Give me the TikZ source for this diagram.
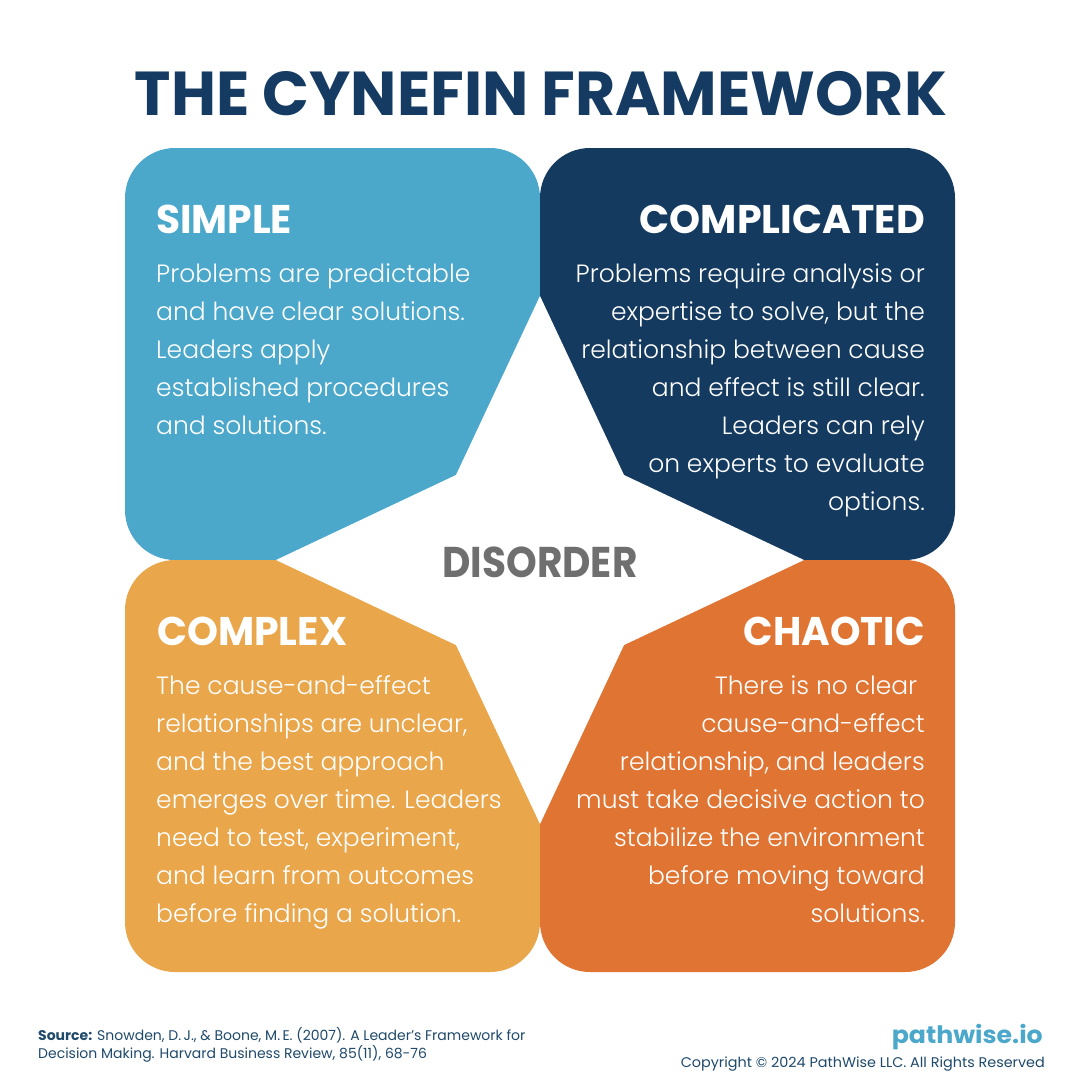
\documentclass[tikz,border=0pt]{standalone}
\usepackage{fontspec}
\usepackage{graphicx}
\setmainfont{Poppins}
\newfontfamily\bodyfont{Poppins Light}
\definecolor{cSimple}{HTML}{4BA8CB}
\definecolor{cComplicated}{HTML}{143A60}
\definecolor{cComplex}{HTML}{E9A64B}
\definecolor{cChaotic}{HTML}{E07432}
\definecolor{cTitle}{HTML}{163B62}
\definecolor{cGray}{HTML}{6F6F6F}
\definecolor{cFoot}{HTML}{1F4A6B}
\newcommand\fitw[2]{\resizebox{#1}{\height}{#2}}
\begin{document}
\begin{tikzpicture}[x=1pt,y=-1pt,
  quad/.style={rounded corners=50pt},
  head/.style={font=\bfseries\fontsize{40}{40}\selectfont, text=white, inner sep=0},
  body/.style={font=\bodyfont\fontsize{25}{38}\selectfont, text=white, inner sep=0},
  foot/.style={font=\fontsize{14}{18}\selectfont, text=cFoot, inner sep=0}]
\useasboundingbox[fill=white] (0,0) rectangle (1080,1080);

% title
\node[anchor=base, inner sep=0, text=cTitle, font=\bfseries\fontsize{62}{62}\selectfont] (title) at (541,115) {\fitw{812pt}{THE CYNEFIN FRAMEWORK}};

% quadrants
\fill[quad, cSimple] (125,148) rectangle (540,560);
\fill[quad, cComplicated] (540,148) rectangle (955,560);
\fill[quad, cComplex] (125,560) rectangle (540,972);
\fill[quad, cChaotic] (540,560) rectangle (955,972);

% disorder star
\fill[white] (540,296) -- (624,475) -- (804,560) -- (624,645) -- (540,824) -- (456,645) -- (276,560) -- (456,475) -- cycle;
\node[anchor=base, inner sep=0, text=cGray, font=\bfseries\fontsize{43}{43}\selectfont] (disorder) at (540,577) {\fitw{195pt}{DISORDER}};

% SIMPLE (anchor at baseline of last line)
\node[head, anchor=base west] (hsimple) at (156,233) {\fitw{136pt}{SIMPLE}};
\node[body, anchor=base west, align=left] (bsimple) at (156,434) {Problems are predictable\\and have clear solutions.\\Leaders apply\\established procedures\\and solutions.};

% COMPLICATED
\node[head, anchor=base east] (hcomplicated) at (925,233) {\fitw{285pt}{COMPLICATED}};
\node[body, anchor=base east, align=right] (bcomplicated) at (925,510) {Problems require analysis or\\expertise to solve, but the\\relationship between cause\\and effect is still clear.\\Leaders can rely\\on experts to evaluate\\options.};

% COMPLEX
\node[head, anchor=base west] (hcomplex) at (157,645) {\fitw{190pt}{COMPLEX}};
\node[body, anchor=base west, align=left] (bcomplex) at (156,922) {The cause-and-effect\\relationships are unclear,\\and the best approach\\emerges over time. Leaders\\need to test, experiment,\\and learn from outcomes\\before finding a solution.};

% CHAOTIC
\node[head, anchor=base east] (hchaotic) at (925,645) {\fitw{181pt}{CHAOTIC}};
\node[body, anchor=base east, align=right] (bchaotic) at (925,922) {There is no clear\hspace*{0.3em}\\cause-and-effect\\relationship, and leaders\\must take decisive action to\\stabilize the environment\\before moving toward\\solutions.};

% footer
\node[foot, anchor=base west, align=left] (source) at (38,1058) {\textbf{Source:} Snowden, D.\,J., \& Boone, M.\,E. (2007). A Leader's Framework for\\Decision Making. Harvard Business Review, 85(11), 68-76};
\node[anchor=base east, inner sep=0, text=cSimple, font=\bfseries\fontsize{24}{24}\selectfont] (brand) at (1043,1043) {\fitw{151pt}{pathwise.io}};
\node[foot, anchor=base east] (copy) at (1045,1067) {\fitw{364pt}{Copyright © 2024 PathWise LLC. All Rights Reserved}};
\end{tikzpicture}
\end{document}
